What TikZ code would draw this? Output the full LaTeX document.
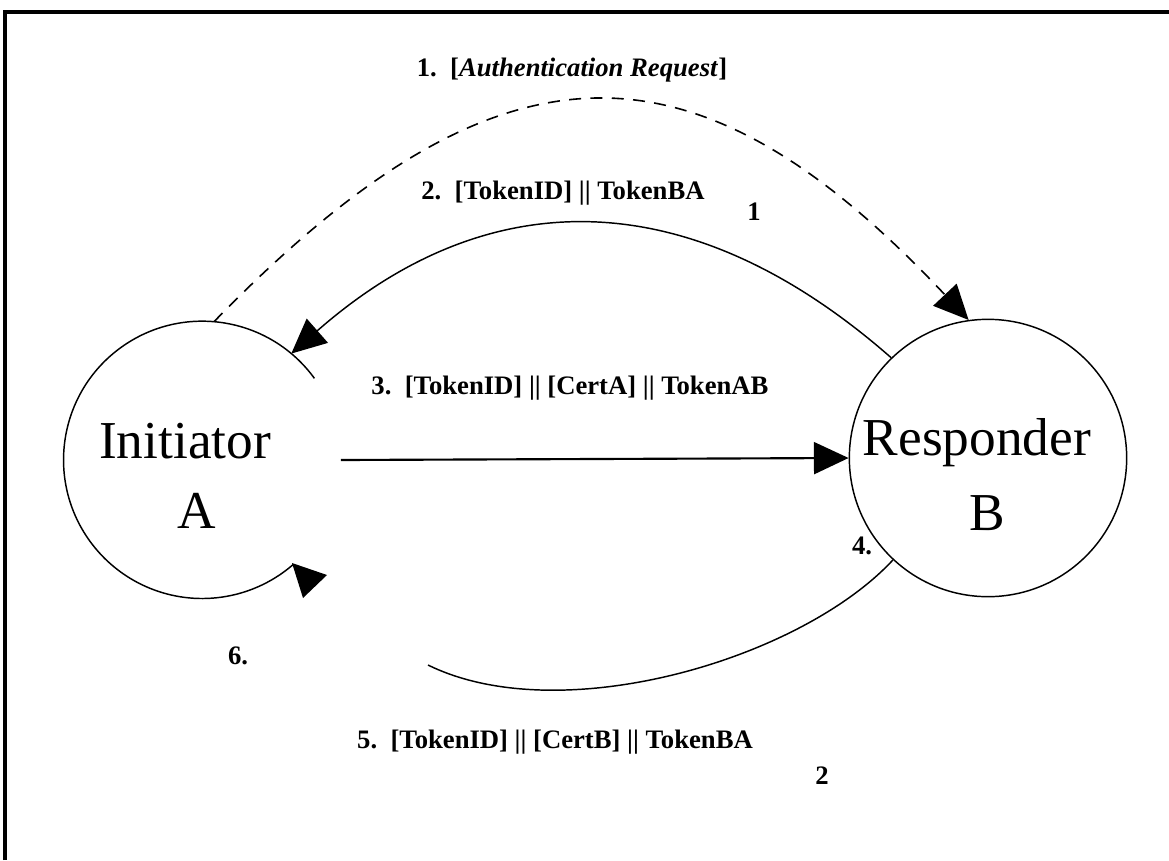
\documentclass[tikz,border=0pt]{standalone}
\usepackage{fontspec}
\setmainfont{Liberation Serif}
\usetikzlibrary{arrows.meta}
\begin{document}
\begin{tikzpicture}[x=0.75pt,y=-0.75pt,
  party/.style={circle,minimum size=208pt,inner sep=0pt},
  bigtext/.style={font=\fontsize{40}{44}\selectfont},
  msg/.style={font=\fontsize{20}{24}\selectfont\bfseries},
  line/.style={line width=1.1pt},
  tip/.style={-{Triangle[length=26pt,width=24pt]}},
  dashline/.style={line width=1.2pt,dash pattern=on 9pt off 7pt}]
\useasboundingbox (0,0) rectangle (1169,860);
\fill[white] (0,0) rectangle (1169,860);
% frame
\draw[line width=2.4pt] (5,860) -- (5,12) -- (1169,12);
% parties
\node[party] (A) at (202,460) {};
\node[party,draw,line width=1.1pt] (B) at (988,458) {};
\node[bigtext] (Ai) at (185,441) {Initiator};
\node[bigtext] (Aa) at (197,511) {A};
\node[bigtext] (Br) at (977,443) {Responder};
\node[bigtext] (Bb) at (987,513) {B};
% A circle with gap on the right (step 6)
\draw[line] (A.36) arc[start angle=36,end angle=311,radius=104pt];
\coordinate (t6) at (292,563);
\fill (t6) -- (327,575) -- (303,598) -- cycle;
% 1: authentication request
\draw[dashline,tip] (A.85) .. controls (500,28) and (694,28) .. (B.98);
% 2: TokenBA
\draw[line,tip] (B.134) .. controls (691,182) and (489,180) .. (A.50);
% 3: TokenAB
\draw[line width=1.6pt,tip] (A.east) -- (B.west);
% 5: CertB TokenBA
\coordinate (e5) at (428,665);
\draw[line] (B.227) .. controls (800,660) and (560,730) .. (e5);
% labels
\node[msg] (l1) at (572,70) {1.\ \ [\textit{Authentication Request}]};
\node[msg] (l2) at (563,193) {2.\ \ [TokenID] || TokenBA};
\node[msg] (n1) at (754,212) {1};
\node[msg] (l3) at (570,388) {3.\ \ [TokenID] || [CertA] || TokenAB};
\node[msg] (l4) at (862,546) {4.};
\node[msg] (l6) at (238,656) {6.};
\node[msg] (l5) at (555,742) {5.\ \ [TokenID] || [CertB] || TokenBA};
\node[msg] (n2) at (822,776) {2};
\end{tikzpicture}
\end{document}
